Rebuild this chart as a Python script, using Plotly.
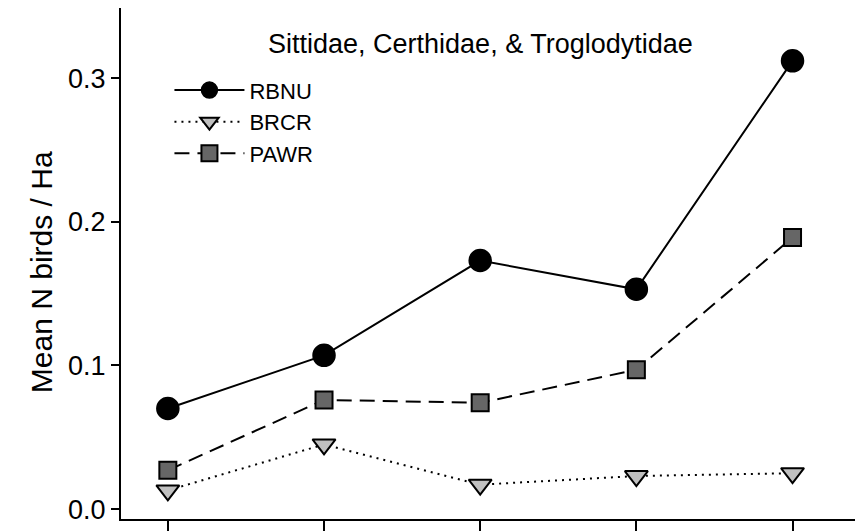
import plotly.graph_objects as go

sites = [1, 2, 3, 4, 5]
rbnu = [0.070, 0.107, 0.173, 0.153, 0.312]
brcr = [0.013, 0.045, 0.017, 0.023, 0.025]
pawr = [0.027, 0.076, 0.074, 0.097, 0.189]
y_ticks = [0.0, 0.1, 0.2, 0.3]
title_text = "Sittidae, Certhidae, & Troglodytidae"
y_title = "Mean N birds / Ha"

FONT = "Liberation Sans, Arial, Helvetica, sans-serif"

fig = go.Figure()
fig.add_trace(go.Scatter(
    x=sites, y=rbnu, name="RBNU", mode="lines+markers",
    line=dict(color="black", width=2, dash="solid"),
    marker=dict(symbol="circle", size=22, color="black",
                line=dict(color="black", width=1.5)),
))
fig.add_trace(go.Scatter(
    x=sites, y=brcr, name="BRCR", mode="lines+markers",
    line=dict(color="black", width=2, dash="2px,5px"),
    marker=dict(symbol="triangle-down", size=20, color="#c0c0c0",
                line=dict(color="black", width=2)),
))
fig.add_trace(go.Scatter(
    x=sites, y=pawr, name="PAWR", mode="lines+markers",
    line=dict(color="black", width=2, dash="15px,8px"),
    marker=dict(symbol="square", size=17, color="#666666",
                line=dict(color="black", width=2)),
))

fig.update_layout(
    width=855, height=531,
    margin=dict(l=121, r=0, t=8, b=8),
    paper_bgcolor="white", plot_bgcolor="white",
    font=dict(family=FONT, color="black", size=20),
    showlegend=True,
    legend=dict(x=0.066, y=0.88, xanchor="left", yanchor="top",
                bgcolor="rgba(0,0,0,0)", font=dict(size=22, family=FONT),
                itemwidth=70, tracegroupgap=0),
    annotations=[
        dict(text=title_text, xref="paper", yref="paper",
             x=0.49, y=0.93, yanchor="middle", showarrow=False,
             font=dict(size=27, family=FONT)),
        dict(text=y_title, xref="paper", yref="paper", textangle=-90,
             x=-0.109, y=0.483, xanchor="center", yanchor="middle",
             showarrow=False, font=dict(size=30, family=FONT)),
    ],
)
fig.update_xaxes(range=[0.70, 5.40], tickvals=sites, showticklabels=False,
                 ticks="outside", ticklen=12, tickwidth=2, tickcolor="black",
                 showline=True, linecolor="black", linewidth=2,
                 showgrid=False, zeroline=False)
fig.update_yaxes(range=[-0.0069, 0.3488], tickvals=y_ticks,
                 ticktext=[f"{v:.1f}" for v in y_ticks],
                 ticks="outside", ticklen=8, tickwidth=2, tickcolor="black",
                 showline=True, linecolor="black", linewidth=2,
                 showgrid=False, zeroline=False,
                 tickfont=dict(size=27, family=FONT))

fig.write_html("out.html")
